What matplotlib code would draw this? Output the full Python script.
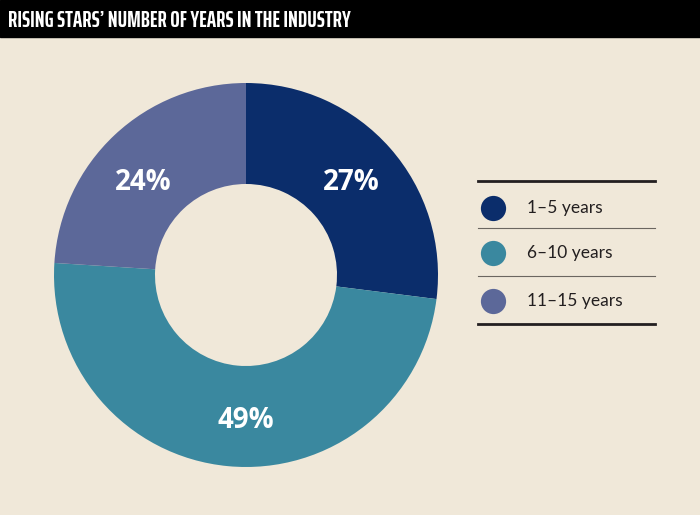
import matplotlib
matplotlib.use("Agg")
import matplotlib.pyplot as plt

# data
categories = ["1\u20135 years", "6\u201310 years", "11\u201315 years"]
shares = [27, 49, 24]
colors = ["#0B2D6B", "#3A889F", "#5C6899"]
title = "RISING STARS\u2019 NUMBER OF YEARS IN THE INDUSTRY"

W, H = 700, 515
bg = "#F0E8D9"

fig = plt.figure(figsize=(W / 100, H / 100), dpi=100, facecolor=bg)

# background axes in pixel coordinates (y down)
bgax = fig.add_axes([0, 0, 1, 1])
bgax.set_xlim(0, W)
bgax.set_ylim(H, 0)
bgax.axis("off")
bgax.add_patch(plt.Rectangle((0, 0), W, 37, color="black", zorder=1))
bgax.text(8, 21, title, color="white", fontsize=16, fontweight="bold",
          family=["Saira ExtraCondensed", "Barlow Condensed", "DejaVu Sans"],
          va="center", ha="left", zorder=2)

# donut
cx, cy, r = 246, 275, 192
pax = fig.add_axes([(cx - r) / W, (H - cy - r) / H, 2 * r / W, 2 * r / H])
wedges, _, autotexts = pax.pie(
    shares, colors=colors, startangle=90, counterclock=False, radius=1,
    wedgeprops=dict(width=0.526, linewidth=0), autopct="%d%%",
    pctdistance=0.737,
    textprops=dict(color="white", fontsize=20, fontweight="bold", family="Open Sans"))
label_pos = [(0.55, 0.48), (0.0, -0.76), (-0.535, 0.48)]
for t, p in zip(autotexts, label_pos):
    t.set_position(p)
pax.set_xlim(-1, 1)
pax.set_ylim(-1, 1)
pax.axis("off")

# legend
x0, x1 = 478, 655
bgax.plot([x0, x1], [181, 181], color="#231F20", lw=2, zorder=2)
bgax.plot([x0, x1], [324, 324], color="#231F20", lw=2, zorder=2)
for y in (228, 276):
    bgax.plot([x0, x1], [y, y], color="#6B6660", lw=0.8, zorder=2)
rows_y = [208, 253, 301]
for lab, col, y in zip(categories, colors, rows_y):
    bgax.scatter([492.5], [y], s=330, color=col, linewidths=0, zorder=3)
    bgax.text(527, y, lab, fontsize=12.5, color="#231F20", va="center",
              ha="left", family="Lato", zorder=3)

fig.savefig("out.png", dpi=100, facecolor=bg)
